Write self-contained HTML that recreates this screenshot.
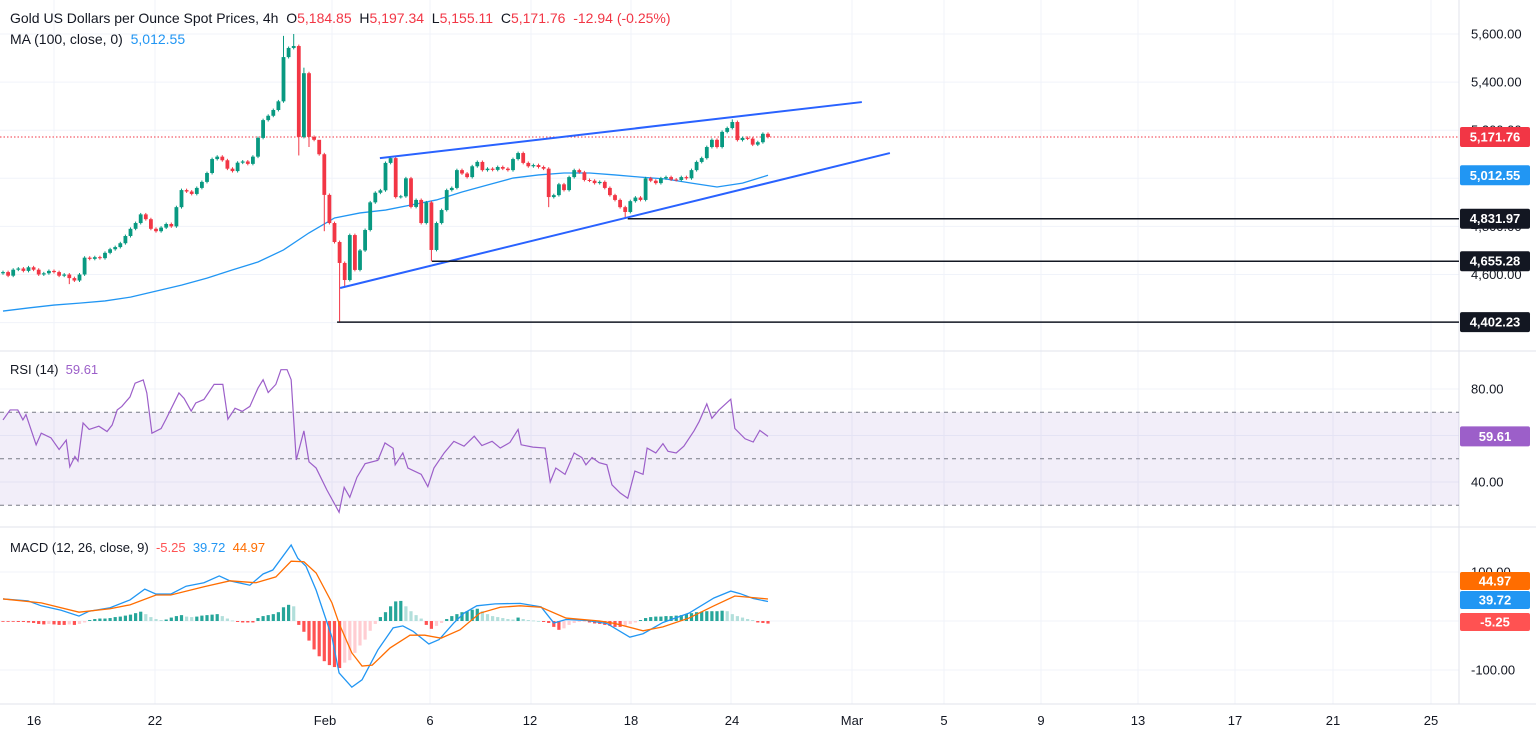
<!DOCTYPE html>
<html><head><meta charset="utf-8"><style>
html,body{margin:0;padding:0;background:#fff;}
svg{display:block;font-family:"Liberation Sans",sans-serif;}
</style></head><body>
<svg id="chart" width="1536" height="737" xmlns="http://www.w3.org/2000/svg"></svg>
<script>
// ---- DATA ----
const closes=[4610,4595,4620,4625,4615,4630,4620,4600,4605,4615,4610,4595,4600,4585,4575,4600,4670,4665,4672,4668,4690,4705,4714,4730,4760,4790,4814,4850,4830,4790,4780,4795,4810,4800,4880,4951,4945,4935,4960,4985,5022,5080,5090,5075,5040,5030,5065,5070,5060,5090,5168,5242,5260,5284,5320,5504,5542,5550,5172,5437,5172,5160,5100,4931,4814,4735,4648,4577,4764,4619,4700,4785,4900,4940,4950,5064,5084,4922,4925,5000,4881,4910,4814,4900,4702,4814,4868,4951,4960,5034,5020,5005,5050,5068,5034,5040,5035,5047,5040,5034,5080,5105,5064,5050,5055,5047,5040,4922,4930,4975,4951,5005,5034,5025,4993,4990,4980,4985,4960,4930,4910,4880,4860,4905,4920,4910,5000,4990,4980,5000,5005,4995,4993,5005,5000,5034,5068,5084,5130,5160,5130,5193,5209,5234,5159,5168,5165,5140,5150,5185,5171.76];
const firstOpen=4605;
const highIdx=[55,57,59,62,143];
const highVal=[5592,5600,5460,5150,5245];
const lowIdx=[58,60,63,66,67,84,107,122,13];
const lowVal=[5095,5130,4780,4402,4550,4655,4880,4832,4560];
const maIdx=[0,5,10,15,20,25,30,35,40,45,50,55,60,65,70,75,80,85,90,95,100,105,110,115,120,125,130,135,140,145,150];
const maVal=[4448,4461,4473,4481,4490,4506,4531,4556,4585,4619,4652,4702,4773,4835,4856,4868,4889,4910,4943,4972,5001,5014,5022,5022,5014,5005,4997,4980,4964,4980,5012.55];
const rsiIdx=[0,1.4,2.9,3.9,4.5,6.5,7.5,9.4,11,12.4,13.1,14.1,14.7,15.7,16.9,18.8,20.4,21.4,22.4,23.3,24.9,25.9,27.5,28.2,29.2,31,32,34.5,35.5,36.9,37.8,39.4,41.4,43.1,44.1,45.5,46.9,48.4,50,51,52,53.5,54.5,55.7,56.5,57.5,59,60,61.4,63.5,65.9,66.9,68,69.4,71,73.5,74.9,76.5,76.9,78.4,79.4,82,83.3,84.5,86.5,88.4,90.4,92.4,93.9,95.9,97.5,99.4,101,101.6,103.9,106.3,107.3,108.4,110.2,112,113.5,114.3,115.5,116.9,118.4,119.4,121,122.5,123.9,125.5,126.3,128,129.4,130.4,132,133.5,135.5,136.5,138,139,140.4,142.7,143.5,145.5,147.1,148.4,150];
const rsiVal=[66.7,71,71,66.7,69,56,61,59,54,58,46.5,51,49,65.4,62.6,64,61.7,64.5,71,72.5,76.6,82.5,83.9,78.3,61,63,67.2,78.3,76,70.5,74,75.5,82,82,67,71.7,70.4,72.5,80.4,84,78.5,82,88.3,88.3,84,49.5,62,48.7,46,36.6,27,37.7,33.4,42,47.9,49.3,56.8,54.5,47.4,52.5,46,43.3,38,46,52.5,57.5,55.4,59.7,55.7,57.5,54.6,57,62.6,56,55,54.6,40,46,43.3,52.5,50.5,47.4,50.5,48.3,47.4,38.8,35.3,33,44.7,43.3,54.6,52.5,56.5,53.2,52.5,55.4,62,66,73.6,67.4,71,75.6,63,58.6,57.2,62.2,59.61];
const macdIdx=[0,4.9,7.5,11.4,14.9,16.9,21,24.9,27.8,30,32.9,35.9,39.4,42.4,44.5,48.4,51,52.9,56.5,57.8,59.4,61.4,64.5,65.9,68.4,70.4,73.5,76.5,78.4,80.4,83.5,85.5,88.4,90.4,92.9,96.5,101.4,105.5,108,110.4,114.5,118.4,122.9,125.5,129.4,134.5,139.4,142.7,144.5,147.1,150];
const macdVal=[45,41,31,22,10,20,27,43,65,55,55,71,78,92,82,73,96,104,155,128,112,63,-33,-106,-135,-120,-59,-14,-10,-21,-47,-38,-4,16,31,35,36,29,-4,3,1,-5,-33,-26,-3,16,47,61,56,46,39.72];
const sigIdx=[0,7.5,14.9,21,24.9,30,32.9,39.4,44.5,49.6,53.5,56.5,59,61.4,64.5,65.9,68.4,70.4,72.4,75.9,79.8,82.7,85.9,89.6,93.5,97.5,101.4,105.5,110.4,117,120,125.5,129.4,134.5,139.4,143.5,150];
const sigVal=[45,37,18,25,33,53,53,70,82,78,90,122,121,98,37,-5,-65,-92,-90,-55,-29,-29,-35,-18,16,28,31,28,6,0,-5,-20,-12,6,31,51,44.97];
const hist=[-1,-1,-1,-2,-2,-3,-4,-6,-7,-6,-7,-8,-8,-7,-8,-6,-3,2,4,5,5,6,8,9,11,13,16,19,14,8,4,2,3,7,10,12,9,8,9,11,12,13,14,10,5,1,-2,-3,-3,-3,6,10,12,14,18,28,33,30,-8,-22,-40,-58,-72,-82,-90,-94,-96,-85,-80,-65,-50,-38,-20,-6,8,18,30,40,41,30,20,12,5,-8,-16,-10,-4,4,10,14,18,20,23,25,20,14,10,8,6,4,3,7,4,2,1,0,-2,-4,-12,-18,-15,-8,-4,-2,-1,-3,-5,-6,-8,-10,-12,-12,-10,-6,-3,2,6,8,9,9,10,10,11,12,14,16,18,19,20,20,20,21,20,14,10,7,4,2,-3,-4,-5.25];
const priceTicks=[5600,5400,5200,5000,4800,4600,4400];
const priceTickLabels=["5,600.00","5,400.00","5,200.00","5,000.00","4,800.00","4,600.00",""];
const rsiTicks=[80,60,40];
const rsiTickLabels=["80.00","","40.00"];
const macdTicks=[100,0,-100];
const macdTickLabels=["100.00","","-100.00"];
const dateX=[34,155,325,430,530,631,732,852,944,1041,1138,1235,1333,1431];
const dateLabels=["16","22","Feb","6","12","18","24","Mar","5","9","13","17","21","25"];
const levelVals=[4831.97,4655.28,4402.23];
const levelStart=[122.5,84.1,65.5];
const trendUpper=[[73.9,5084],[168.4,5317]];
const trendLower=[[66.1,4544],[173.9,5105]];

// ---- AXES ----
const W=1536,PW=1459;
const X=i=>3+5.1*i;
const PY=p=>34+(5600-p)*0.2405;
const RY=v=>389+(80-v)*2.325;
const MY=v=>621-v*0.49;
const svg=document.getElementById('chart');
const NS='http://www.w3.org/2000/svg';
function el(tag,attrs,parent){const e=document.createElementNS(NS,tag);for(const k in attrs)e.setAttribute(k,attrs[k]);(parent||svg).appendChild(e);return e;}
function txt(s,attrs,parent){const e=el('text',attrs,parent);e.textContent=s;return e;}

const grid=el('g',{});


[54,155,332,430,531,631,731,852,944,1041,1138,1235,1333,1431].forEach(x=>el('line',{x1:x,x2:x,y1:0,y2:704,stroke:'#f0f3fa','stroke-width':1},grid));
priceTicks.forEach(p=>el('line',{x1:0,x2:PW,y1:PY(p),y2:PY(p),stroke:'#f0f3fa'},grid));
rsiTicks.forEach(v=>el('line',{x1:0,x2:PW,y1:RY(v),y2:RY(v),stroke:'#f0f3fa'},grid));
macdTicks.forEach(v=>el('line',{x1:0,x2:PW,y1:MY(v),y2:MY(v),stroke:'#f0f3fa'},grid));
[351,527,704].forEach(y=>el('line',{x1:0,x2:W,y1:y,y2:y,stroke:'#e0e3eb'}));
el('line',{x1:PW,x2:PW,y1:0,y2:704,stroke:'#e0e3eb'});

const ma=el('polyline',{points:maIdx.map((i,k)=>X(i)+','+PY(maVal[k])).join(' '),fill:'none',stroke:'#2196f3','stroke-width':1.3});



el('line',{x1:0,x2:PW,y1:PY(5171.76),y2:PY(5171.76),stroke:'#f23645','stroke-width':1,'stroke-dasharray':'1.5 2'});

const cg=el('g',{});


closes.forEach((c,i)=>{
  const o=i===0?firstOpen:closes[i-1];
  let hi=Math.max(o,c)+6, lo=Math.min(o,c)-6;
  const hk=highIdx.indexOf(i); if(hk>=0) hi=highVal[hk];
  const lk=lowIdx.indexOf(i); if(lk>=0) lo=lowVal[lk];
  const col=c>=o?'#089981':'#f23645';
  const g=el('g',{},cg);
  
  
  el('line',{x1:X(i),x2:X(i),y1:PY(hi),y2:PY(lo),stroke:col,'stroke-width':1},g);
  const t=PY(Math.max(o,c)),b=PY(Math.min(o,c));
  el('rect',{x:X(i)-1.9,y:t,width:3.8,height:Math.max(1,b-t),fill:col},g);
});

[trendUpper,trendLower].forEach((t,k)=>{
  const l=el('line',{x1:X(t[0][0]),y1:PY(t[0][1]),x2:X(t[1][0]),y2:PY(t[1][1]),stroke:'#2962ff','stroke-width':2});
  
  
});
levelVals.forEach((v,k)=>{
  const l=el('line',{x1:X(levelStart[k]),x2:PW,y1:PY(v),y2:PY(v),stroke:'#131722','stroke-width':1.5});
  
  
});

el('rect',{x:0,y:RY(70),width:PW,height:RY(30)-RY(70),fill:'rgba(126,87,194,0.1)'});
[70,50,30].forEach(v=>el('line',{x1:0,x2:PW,y1:RY(v),y2:RY(v),stroke:'#787b86','stroke-dasharray':'4 4'}));
const rl=el('polyline',{points:rsiIdx.map((i,k)=>X(i)+','+RY(rsiVal[k])).join(' '),fill:'none',stroke:'#9c5fc9','stroke-width':1.2});



const hg=el('g',{});


hist.forEach((v,i)=>{
  const prev=i?hist[i-1]:0;
  const col=v>=0?(v>=prev?'#26a69a':'#b2dfdb'):(v<=prev?'#ff5252':'#ffcdd2');
  const y0=MY(0),y1=MY(v);
  const r=el('rect',{x:X(i)-1.6,y:Math.min(y0,y1),width:3.2,height:Math.max(0.8,Math.abs(y1-y0)),fill:col},hg);
  
  
});
const ml=el('polyline',{points:macdIdx.map((i,k)=>X(i)+','+MY(macdVal[k])).join(' '),fill:'none',stroke:'#2196f3','stroke-width':1.3});


const sl=el('polyline',{points:sigIdx.map((i,k)=>X(i)+','+MY(sigVal[k])).join(' '),fill:'none',stroke:'#ff6d00','stroke-width':1.3});



const ax=el('g',{'font-size':13,fill:'#131722'});


priceTicks.forEach((p,k)=>txt(priceTickLabels[k],{x:1471,y:PY(p)+4.5},ax));
rsiTicks.forEach((v,k)=>txt(rsiTickLabels[k],{x:1471,y:RY(v)+4.5},ax));
macdTicks.forEach((v,k)=>txt(macdTickLabels[k],{x:1471,y:MY(v)+4.5},ax));
const xa=el('g',{'font-size':13,fill:'#131722','text-anchor':'middle'});


dateLabels.forEach((d,k)=>txt(d,{x:dateX[k],y:725},xa));

function box(y,label,color,name,h){
  const g=el('g',{});
  
  
  el('rect',{x:1460,y:y-h/2,width:70,height:h,rx:2,fill:color},g);
  txt(label,{x:1495,y:y+4.5,'font-size':13,'font-weight':'bold',fill:'#fff','text-anchor':'middle'},g);
}
box(PY(5171.76),'5,171.76','#f23645','last-price-label',20);
box(PY(5012.55),'5,012.55','#2196f3','ma-value-label',20);
levelVals.forEach(v=>box(PY(v),v.toLocaleString('en-US',{minimumFractionDigits:2}),'#131722','level-label',20));
box(RY(59.61),'59.61','#9c5fc9','rsi-value-label',20);
box(581,'44.97','#ff6d00','signal-value-label',18);
box(600,'39.72','#2196f3','macd-value-label',18);
box(622,'-5.25','#ff5252','hist-value-label',18);
</script>
<div style="position:absolute;left:10px;top:10px;font:14px 'Liberation Sans',sans-serif;color:#131722;white-space:pre">Gold US Dollars per Ounce Spot Prices, 4h  O<span style="color:#f23645">5,184.85</span>  H<span style="color:#f23645">5,197.34</span>  L<span style="color:#f23645">5,155.11</span>  C<span style="color:#f23645">5,171.76  -12.94 (-0.25%)</span></div>
<div style="position:absolute;left:10px;top:31px;font:14px 'Liberation Sans',sans-serif;color:#131722;white-space:pre">MA (100, close, 0)  <span style="color:#2196f3">5,012.55</span></div>
<div style="position:absolute;left:10px;top:362px;font:13px 'Liberation Sans',sans-serif;color:#131722;white-space:pre">RSI (14)  <span style="color:#9c5fc9">59.61</span></div>
<div style="position:absolute;left:10px;top:540px;font:13px 'Liberation Sans',sans-serif;color:#131722;white-space:pre">MACD (12, 26, close, 9)  <span style="color:#ff5252">-5.25</span>  <span style="color:#2196f3">39.72</span>  <span style="color:#ff6d00">44.97</span></div>
</body></html>
